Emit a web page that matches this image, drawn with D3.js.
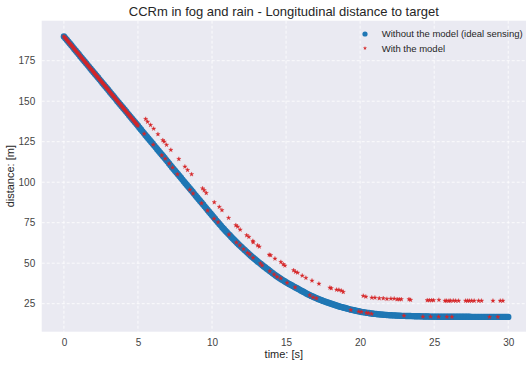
<!DOCTYPE html>
<html>
<head>
<meta charset="utf-8">
<script src="https://cdn.jsdelivr.net/npm/d3@7"></script>
<style>
  html, body { margin: 0; padding: 0; background: #ffffff; }
  svg { display: block; font-family: "Liberation Sans", Arial, sans-serif; }
</style>
</head>
<body>
<svg id="chart" width="527" height="367"></svg>
<script>
// ---- data ----------------------------------------------------------------
const chartTitle = "CCRm in fog and rain - Longitudinal distance to target";
const xLabel = "time: [s]";
const yLabel = "distance: [m]";
const seriesNames = ["Without the model (ideal sensing)", "With the model"];

const xTicks = [0, 5, 10, 15, 20, 25, 30];
const yTicks = [25, 50, 75, 100, 125, 150, 175];

// ideal sensing: distance [m] sampled every idealStep seconds from t = 0 to 30 s
const idealStep = 0.1;
const idealDistance = [
  190.0, 188.9, 187.8, 186.7, 185.6, 184.5, 183.4, 182.3, 181.2, 180.1,
  179.0, 177.8, 176.7, 175.6, 174.5, 173.4, 172.3, 171.2, 170.1, 169.0,
  167.9, 166.8, 165.7, 164.6, 163.5, 162.4, 161.3, 160.2, 159.1, 158.0,
  156.9, 155.7, 154.6, 153.5, 152.4, 151.3, 150.2, 149.1, 148.0, 146.9,
  145.8, 144.7, 143.6, 142.5, 141.4, 140.3, 139.2, 138.1, 137.0, 135.9,
  134.8, 133.6, 132.5, 131.4, 130.3, 129.2, 128.1, 127.0, 125.9, 124.8,
  123.7, 122.6, 121.5, 120.4, 119.3, 118.2, 117.1, 116.0, 114.9, 113.8,
  112.7, 111.5, 110.4, 109.3, 108.2, 107.1, 106.0, 104.9, 103.8, 102.7,
  101.6, 100.5, 99.4, 98.3, 97.2, 96.1, 95.0, 93.9, 92.8, 91.7,
  90.6, 89.5, 88.4, 87.3, 86.2, 85.1, 84.0, 82.9, 81.8, 80.7,
  79.6, 78.5, 77.4, 76.3, 75.3, 74.2, 73.2, 72.1, 71.1, 70.1,
  69.1, 68.1, 67.2, 66.2, 65.3, 64.3, 63.4, 62.5, 61.6, 60.7,
  59.9, 59.0, 58.2, 57.3, 56.5, 55.6, 54.8, 54.0, 53.2, 52.4,
  51.7, 50.9, 50.2, 49.5, 48.8, 48.0, 47.3, 46.6, 45.9, 45.2,
  44.5, 43.8, 43.1, 42.4, 41.8, 41.2, 40.6, 40.0, 39.4, 38.8,
  38.3, 37.7, 37.2, 36.7, 36.2, 35.7, 35.2, 34.7, 34.2, 33.7,
  33.2, 32.7, 32.2, 31.7, 31.2, 30.7, 30.3, 29.8, 29.4, 29.0,
  28.6, 28.2, 27.8, 27.4, 27.1, 26.7, 26.4, 26.0, 25.7, 25.4,
  25.1, 24.8, 24.5, 24.2, 23.9, 23.6, 23.3, 23.0, 22.8, 22.5,
  22.3, 22.0, 21.8, 21.5, 21.3, 21.1, 20.9, 20.7, 20.5, 20.3,
  20.1, 19.9, 19.8, 19.6, 19.5, 19.3, 19.2, 19.0, 18.9, 18.8,
  18.7, 18.6, 18.5, 18.4, 18.3, 18.25, 18.2, 18.1, 18.0, 17.95,
  17.9, 17.85, 17.8, 17.75, 17.7, 17.65, 17.6, 17.55, 17.5, 17.47,
  17.45, 17.42, 17.4, 17.37, 17.35, 17.32, 17.3, 17.27, 17.25, 17.22,
  17.2, 17.17, 17.15, 17.12, 17.1, 17.07, 17.05, 17.02, 17.0, 17.0,
  17.0, 16.98, 16.97, 16.96, 16.95, 16.95, 16.95, 16.94, 16.93, 16.92,
  16.9, 16.9, 16.9, 16.9, 16.9, 16.9, 16.9, 16.9, 16.9, 16.9,
  16.9, 16.9, 16.9, 16.9, 16.9, 16.88, 16.88, 16.87, 16.87, 16.86,
  16.85, 16.85, 16.85, 16.85, 16.85, 16.85, 16.85, 16.85, 16.85, 16.85,
  16.85, 16.85, 16.85, 16.85, 16.85, 16.85, 16.85, 16.85, 16.85, 16.85,
  16.85
];

// with the model: continuous detection during the first 5 s (every modelStep s)
const modelStep = 0.05;
const modelEarlyDistance = [
  190.0, 189.4, 188.9, 188.3, 187.8, 187.2, 186.7, 186.1, 185.6, 185.0,
  184.5, 184.0, 183.4, 182.8, 182.3, 181.7, 181.2, 180.6, 180.1, 179.5,
  179.0, 178.4, 177.8, 177.3, 176.7, 176.2, 175.6, 175.1, 174.5, 174.0,
  173.4, 172.9, 172.3, 171.8, 171.2, 170.7, 170.1, 169.6, 169.0, 168.5,
  167.9, 167.4, 166.8, 166.3, 165.7, 165.2, 164.6, 164.1, 163.5, 163.0,
  162.4, 161.9, 161.3, 160.8, 160.2, 159.7, 159.1, 158.6, 158.0, 157.5,
  156.9, 156.3, 155.7, 155.2, 154.6, 154.1, 153.5, 153.0, 152.4, 151.9,
  151.3, 150.8, 150.2, 149.7, 149.1, 148.6, 148.0, 147.5, 146.9, 146.4,
  145.8, 145.3, 144.7, 144.2, 143.6, 143.1, 142.5, 142.0, 141.4, 140.9,
  140.3, 139.8, 139.2, 138.7, 138.1, 137.6, 137.0, 136.5, 135.9, 135.4,
  134.8
];

// with the model: intermittent detections afterwards
const modelTime = [
  5.42, 5.52, 5.65, 5.85, 6.03, 6.06, 6.35, 6.61, 6.68, 6.77,
  6.84, 6.93, 7.11, 7.22, 7.33, 7.67, 7.76, 8.17, 8.35, 8.50,
  8.62, 8.72, 9.29, 9.36, 9.47, 9.61, 9.70, 10.14, 10.15, 10.41,
  10.49, 10.67, 11.12, 11.15, 11.61, 11.65, 11.73, 11.88, 11.90, 12.13,
  12.34, 12.40, 12.49, 12.55, 12.76, 12.77, 12.78, 13.08, 13.19, 13.27,
  13.38, 13.86, 13.90, 13.96, 14.19, 14.25, 14.39, 14.64, 14.65, 14.81,
  14.92, 15.07, 15.51, 15.61, 15.64, 15.78, 16.09, 16.34, 16.60, 16.75,
  16.82, 17.05, 17.22, 17.96, 18.05, 18.41, 18.57, 18.74, 18.86, 19.37,
  19.91, 20.09, 20.21, 20.39, 20.43, 20.56, 20.78, 20.79, 21.00, 21.29,
  21.56, 21.81, 22.08, 22.30, 22.50, 22.64, 22.78, 22.96, 23.30, 23.41,
  24.24, 24.53, 24.67, 24.76, 24.83, 24.96, 25.30, 25.32, 25.73, 25.84,
  25.86, 26.00, 26.10, 26.20, 26.29, 26.45, 26.65, 27.12, 27.25, 27.37,
  27.53, 27.70, 28.00, 28.20, 28.74, 28.97, 29.30, 29.46, 29.64
];
const modelDistance = [
  129.9, 139.0, 137.3, 135.3, 123.2, 133.0, 129.6, 116.6, 125.9, 125.0,
  114.5, 123.0, 111.5, 119.9, 109.0, 104.9, 114.3, 109.6, 107.5, 95.4,
  104.9, 93.0, 87.0, 96.2, 95.0, 93.3, 82.5, 77.5, 87.6, 75.3,
  84.7, 82.7, 77.9, 67.7, 73.4, 62.8, 72.5, 61.0, 70.7, 58.7,
  67.2, 56.4, 66.2, 55.4, 63.7, 53.3, 62.9, 61.0, 60.2, 49.9,
  48.6, 55.2, 45.1, 54.9, 43.1, 52.8, 41.6, 40.6, 50.7, 49.3,
  48.5, 37.9, 45.6, 35.1, 44.6, 44.1, 42.3, 40.9, 30.2, 39.2,
  28.9, 28.3, 37.3, 34.9, 34.5, 33.6, 33.5, 33.0, 32.2, 21.1,
  20.1, 19.9, 29.8, 29.3, 19.3, 19.1, 18.7, 28.7, 28.7, 28.3,
  28.3, 27.9, 28.1, 28.1, 27.7, 27.7, 27.7, 17.6, 27.7, 27.3,
  17.0, 27.1, 27.1, 17.0, 27.1, 27.1, 16.9, 27.3, 26.8, 26.8,
  16.9, 26.8, 26.8, 16.9, 26.9, 26.8, 26.8, 26.8, 26.8, 26.8,
  26.8, 26.8, 26.8, 26.8, 16.8, 26.8, 16.8, 26.8, 26.8
];

// ---- layout & scales -------------------------------------------------------
const W = 527, H = 367;
const plot = { left: 41.7, right: 526, top: 20.7, bottom: 331.7 };
const colors = { ideal: "#1f77b4", model: "#d62728", bg: "#eaeaf2" };

const x = d3.scaleLinear().domain([-1.5, 31.2]).range([plot.left, plot.right]);
const y = d3.scaleLinear().domain([7.7, 199.7]).range([plot.bottom, plot.top]);

const svg = d3.select("#chart");

const idealPoints = idealDistance.map((d, i) => ({ t: i * idealStep, d }));
const modelPoints = modelEarlyDistance.map((d, i) => ({ t: i * modelStep, d }))
  .concat(modelTime.map((t, i) => ({ t, d: modelDistance[i] })));

// ---- background & grid -----------------------------------------------------
svg.append("rect")
  .attr("x", plot.left).attr("y", plot.top)
  .attr("width", plot.right - plot.left).attr("height", plot.bottom - plot.top)
  .attr("fill", colors.bg);

const grid = svg.append("g").attr("stroke", "#ffffff").attr("stroke-width", 0.8)
  .attr("stroke-dasharray", "3,2");
grid.selectAll("line.gx").data(xTicks).join("line").attr("class", "gx")
  .attr("x1", d => x(d)).attr("x2", d => x(d))
  .attr("y1", plot.top).attr("y2", plot.bottom);
grid.selectAll("line.gy").data(yTicks).join("line").attr("class", "gy")
  .attr("y1", d => y(d)).attr("y2", d => y(d))
  .attr("x1", plot.left).attr("x2", plot.right);

// ---- axes (labels only, no tick marks or spines) -------------------------------
const xAxis = svg.append("g")
  .attr("transform", `translate(0,${plot.bottom})`)
  .call(d3.axisBottom(x).tickValues(xTicks).tickSize(0).tickPadding(7).tickFormat(d3.format("d")));
const yAxis = svg.append("g")
  .attr("transform", `translate(${plot.left},0)`)
  .call(d3.axisLeft(y).tickValues(yTicks).tickSize(0).tickPadding(6.5).tickFormat(d3.format("d")));
[xAxis, yAxis].forEach(a => {
  a.select(".domain").remove();
  a.selectAll("text").attr("fill", "#444").attr("font-size", 10)
    .attr("font-family", "Liberation Sans, Arial, sans-serif");
});

// ---- marks ------------------------------------------------------------------
svg.append("g").selectAll("circle").data(idealPoints).join("circle")
  .attr("cx", p => x(p.t)).attr("cy", p => y(p.d))
  .attr("r", 3.2).attr("fill", colors.ideal);

const star = d3.symbol().type(d3.symbolStar).size(6);
svg.append("g").selectAll("path").data(modelPoints).join("path")
  .attr("transform", p => `translate(${x(p.t)},${y(p.d)})`)
  .attr("d", star).attr("fill", colors.model).attr("stroke", colors.model)
  .attr("stroke-width", 0.3);

// ---- text -------------------------------------------------------------------
svg.append("text").attr("x", (plot.left + plot.right) / 2).attr("y", 15.5)
  .attr("text-anchor", "middle").attr("font-size", 13).attr("fill", "#262626")
  .text(chartTitle);

svg.append("text").attr("x", (plot.left + plot.right) / 2).attr("y", 357.5)
  .attr("text-anchor", "middle").attr("font-size", 11).attr("fill", "#262626")
  .text(xLabel);

svg.append("text")
  .attr("transform", `translate(13.5,${(plot.top + plot.bottom) / 2}) rotate(-90)`)
  .attr("text-anchor", "middle").attr("font-size", 11).attr("fill", "#262626")
  .text(yLabel);

// ---- legend -----------------------------------------------------------------
const legend = svg.append("g").attr("transform", "translate(365,34)");
legend.append("circle").attr("cx", 0).attr("cy", 0).attr("r", 2.6).attr("fill", colors.ideal);
legend.append("path").attr("transform", "translate(0,14.2)")
  .attr("d", d3.symbol().type(d3.symbolStar).size(5)).attr("fill", colors.model);
legend.selectAll("text").data(seriesNames).join("text")
  .attr("x", 16.7).attr("y", (d, i) => 3.4 + i * 14.2)
  .attr("font-size", 9.5).attr("fill", "#262626")
  .text(d => d);
</script>
</body>
</html>
